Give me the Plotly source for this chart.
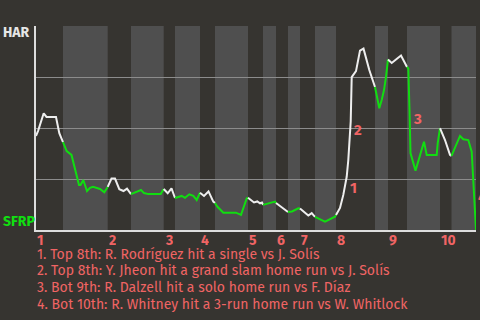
import plotly.graph_objects as go

# Game progress (horizontal position of each play) and HAR win probability
progress = [0, 2, 7.7, 10.5, 20, 23.3, 27,
            30.7, 35.5, 40.7, 43, 44.5, 47.3, 51, 54, 57, 64, 68.3, 71.7,
            75.5, 79, 83.3, 87.5, 91, 95,
            101, 105, 108, 112.3, 124.7, 127.7,
            131.7, 135.5, 139,
            145.7, 149, 153.3, 157.3, 160.7, 164,
            168, 172.5, 177.3, 179,
            181.5, 187.3, 200, 205, 210.7, 212,
            218, 221.3, 224, 226, 227,
            239, 240,
            252,
            256, 262.3, 264,
            272.3, 275.7, 279,
            289, 299, 300,
            304, 307.3, 310.7, 312.3, 314.7, 315.7, 320, 324, 327.5, 333.3, 339,
            341.3, 343.3, 345.7, 348, 350, 352,
            355.7, 360, 365, 371,
            372.3, 373.5, 374.5, 379.5, 383, 388, 390.7, 400.7, 401.7, 404,
            409, 414, 415.5,
            420.7, 424, 427.3, 432.3, 435.7, 436.7, 438, 439.7, 440]
har_wp = [0.461, 0.485, 0.572, 0.554, 0.554, 0.475, 0.431,
          0.387, 0.368, 0.270, 0.221, 0.221, 0.245, 0.191, 0.207, 0.212, 0.201, 0.185, 0.211,
          0.252, 0.252, 0.200, 0.191, 0.203, 0.176,
          0.186, 0.196, 0.181, 0.176, 0.176, 0.201,
          0.180, 0.204, 0.157,
          0.167, 0.158, 0.175, 0.167, 0.147, 0.183,
          0.167, 0.189, 0.139, 0.132,
          0.114, 0.085, 0.085, 0.074, 0.155, 0.158,
          0.135, 0.140, 0.131, 0.135, 0.123,
          0.139, 0.132,
          0.088,
          0.091, 0.106, 0.105,
          0.071, 0.083, 0.064,
          0.041, 0.065, 0.074,
          0.108, 0.172, 0.261, 0.343, 0.531, 0.749, 0.779, 0.879, 0.889, 0.784, 0.701,
          0.637, 0.597, 0.637, 0.686, 0.751, 0.836,
          0.819, 0.836, 0.855, 0.799,
          0.792, 0.588, 0.377, 0.291, 0.353, 0.433, 0.368, 0.368, 0.425, 0.499,
          0.441, 0.368, 0.363,
          0.425, 0.461, 0.445, 0.441, 0.384, 0.294, 0.196, 0.005, 0.0]

# Half-inning boundaries (top halves start at even indices)
half_bounds = [0, 27, 71.7, 95, 127.7, 139, 164, 179, 212, 227, 240, 252,
               264, 279, 300, 339, 352, 371, 404, 415.5, 440]
inning_labels = ["1", "2", "3", "4", "5", "6", "7", "8", "9", "10"]

event_tags = ["1", "2", "3", "4"]
event_x = [311.5, 315.5, 375.2, 439.5]
event_y = [0.206, 0.488, 0.544, 0.162]
event_notes = [
    "1. Top 8th: R. Rodríguez hit a single vs J. Solís",
    "2. Top 8th: Y. Jheon hit a grand slam home run vs J. Solís",
    "3. Bot 9th: R. Dalzell hit a solo home run vs F. Díaz",
    "4. Bot 10th: R. Whitney hit a 3-run home run vs W. Whitlock",
]
team_top = "HAR"
team_bottom = "SFRP"

BG = "#363430"
BAND = "#4f4f4f"
WHITE = "#eeeeee"
GREEN = "#11dd11"
RED = "#f06464"
FONT = "Fira Sans, Noto Sans, sans-serif"

fig = go.Figure()

# Background half-inning bands (bottom halves lighter)
shapes = []
for i in range(len(half_bounds) - 1):
    if i % 2 == 1:
        shapes.append(dict(type="rect", xref="x", yref="paper",
                           x0=half_bounds[i], x1=half_bounds[i + 1], y0=0, y1=1,
                           fillcolor=BAND, line_width=0, layer="below"))


def half_index(xm):
    for i in range(len(half_bounds) - 1):
        if half_bounds[i] <= xm < half_bounds[i + 1]:
            return i
    return len(half_bounds) - 2


# Build colored segments: white in top halves, green in bottom halves
segs = []
cur = None
for i in range(len(progress) - 1):
    xm = (progress[i] + progress[i + 1]) / 2
    h = half_index(xm)
    if cur is None or cur[0] != h:
        cur = [h, [progress[i]], [har_wp[i]]]
        segs.append(cur)
    cur[1].append(progress[i + 1])
    cur[2].append(har_wp[i + 1])

for h, xs, ys in segs:
    fig.add_trace(go.Scatter(x=xs, y=ys, mode="lines",
                             line=dict(color=WHITE if h % 2 == 0 else GREEN, width=2),
                             hoverinfo="skip", showlegend=False))

annotations = []
for k, lab in enumerate(inning_labels):
    annotations.append(dict(x=half_bounds[2 * k], xshift=-1, y=-0.05, xref="x", yref="paper",
                            text=lab, showarrow=False, xanchor="left", yanchor="middle",
                            height=14,
                            font=dict(family=FONT, size=14, color=RED, weight="bold")))
for t, ex, ey in zip(event_tags, event_x, event_y):
    annotations.append(dict(x=ex, y=ey, xref="x", yref="y", text=t, showarrow=False,
                            xanchor="left", yanchor="middle",
                            font=dict(family=FONT, size=15, color=RED, weight="bold")))
note_y = [-0.118, -0.2, -0.281, -0.363]
for txt, ny in zip(event_notes, note_y):
    annotations.append(dict(x=-0.003, y=ny, xref="paper", yref="paper", text=txt,
                            showarrow=False, xanchor="left", yanchor="middle",
                            height=15,
                            font=dict(family=FONT, size=14, color=RED)))
annotations.append(dict(x=-0.079, y=0.966, xref="paper", yref="paper", text=team_top,
                        showarrow=False, xanchor="left", yanchor="middle",
                        font=dict(family=FONT, size=14, color="#e6e6e6", weight="bold")))
annotations.append(dict(x=-0.079, y=0.044, xref="paper", yref="paper", text=team_bottom,
                        showarrow=False, xanchor="left", yanchor="middle",
                        font=dict(family=FONT, size=14, color=GREEN, weight="bold")))

fig.update_layout(
    width=480, height=320,
    margin=dict(l=36, r=4, t=26, b=90),
    paper_bgcolor=BG, plot_bgcolor=BG,
    shapes=shapes, annotations=annotations,
    xaxis=dict(range=[0, 440], showgrid=False, zeroline=False, showticklabels=False,
               showline=True, linecolor="#dddddd", linewidth=2, ticks=""),
    yaxis=dict(range=[0, 1], tickvals=[0, 0.25, 0.5, 0.75, 1], showticklabels=False,
               gridcolor="#8c8c8c", gridwidth=1, zeroline=False,
               showline=True, linecolor="#dddddd", linewidth=2, ticks=""),
)

fig.write_html("out.html", config={"displayModeBar": False})
